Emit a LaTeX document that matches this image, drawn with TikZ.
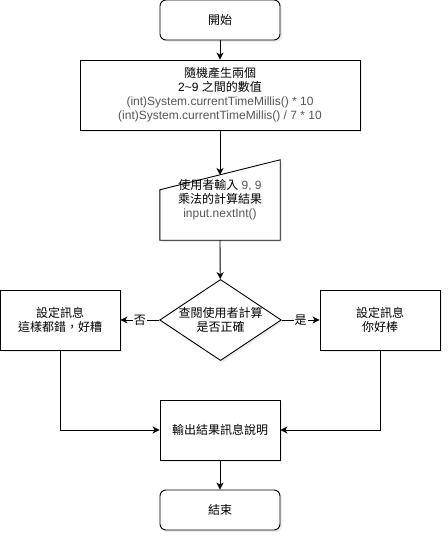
\documentclass[tikz,border=0pt]{standalone}
\usepackage{fontspec}
\setmainfont{Liberation Sans}
\newfontfamily\cjk{Noto Sans CJK TC}
\usetikzlibrary{arrows.meta,shapes.geometric,shadows}
\definecolor{codegray}{HTML}{555555}
\tikzset{
  base/.style={draw=black, line width=0.9pt, fill=white, align=center,
    font=\fontsize{12}{14}\selectfont, inner sep=0pt,
    drop shadow={shadow xshift=2pt, shadow yshift=-2pt, opacity=0.15}},
  term/.style={base, rounded corners=6pt, minimum width=120pt, minimum height=40pt},
  proc/.style={base, minimum width=120pt, minimum height=60pt},
  dec/.style={base, diamond, aspect=1.5, minimum width=119pt, minimum height=80pt},
  arr/.style={draw=black, line width=0.9pt, -{Stealth[length=7pt,width=7pt,inset=2pt]}},
  lbl/.style={fill=white, inner sep=1pt, font=\fontsize{12}{14}\selectfont\cjk},
}
\begin{document}
\begin{tikzpicture}[x=1pt,y=-1pt]
\useasboundingbox (0,0) rectangle (447,537);
\node[term] (start) at (220,20) {\cjk 開始};
\node[proc, minimum width=280pt, minimum height=70pt] (rand) at (220,95)
  {{\cjk 隨機產生兩個}\\2\textasciitilde9 {\cjk 之間的數值}\\
   \textcolor{codegray}{(int)System.currentTimeMillis() * 10}\\
   \textcolor{codegray}{(int)System.currentTimeMillis() / 7 * 10}};
% manual input shape
\node[inner sep=0pt, minimum width=120pt, minimum height=80pt] (inp) at (220,200) {};
\draw[line width=0.9pt, fill=white, drop shadow={shadow xshift=2pt, shadow yshift=-2pt, opacity=0.15}]
  (inp.south west) -- ([yshift=-30pt]inp.west |- inp.north) -- (inp.north east) -- (inp.south east) -- cycle;
\node[align=center, font=\fontsize{12}{14}\selectfont] at (inp.center)
  {{\cjk 使用者輸入} \textcolor{codegray}{9, 9}\\{\cjk 乘法的計算結果}\\\textcolor{codegray}{input.nextInt()}};
\coordinate (inptop) at (220,175);
\node[dec] (chk) at (220.5,320) {\cjk 查閱使用者計算\\\cjk 是否正確};
\node[proc] (no) at (60,320) {\cjk 設定訊息\\\cjk 這樣都錯，好糟};
\node[proc] (yes) at (380,320) {\cjk 設定訊息\\\cjk 你好棒};
\node[proc] (out) at (220,430) {\cjk 輸出結果訊息說明};
\node[term] (end) at (220,510) {\cjk 結束};
\draw[arr] (start) -- (rand);
\draw[arr] (rand) -- (inptop);
\draw[arr] (inp.south) -- (chk);
\draw[arr] (chk) -- node[lbl] {否} (no);
\draw[arr] (chk) -- node[lbl] {是} (yes);
\draw[arr] (no.south) |- (out.west);
\draw[arr] (yes.south) |- (out.east);
\draw[arr] (out) -- (end);
\end{tikzpicture}
\end{document}
